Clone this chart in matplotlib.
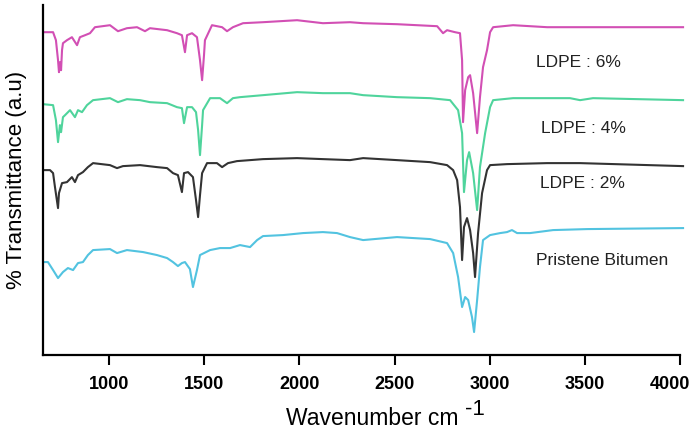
import matplotlib.pyplot as plt
from matplotlib import font_manager
from matplotlib.transforms import ScaledTranslation

# FTIR spectra, wavenumber (cm-1) vs. transmittance (arbitrary units, offset per sample)
wn_ldpe6 = [653, 706, 721, 732, 737, 742, 748, 753, 758, 779, 805, 832, 847, 874, 900, 926,
            1005, 1047, 1094, 1147, 1189, 1215, 1305, 1357, 1383, 1399, 1410, 1436, 1462, 1478,
            1489, 1499, 1504, 1541, 1594, 1620, 1651, 1704, 1809, 1988, 2124, 2266, 2335, 2513,
            2724, 2755, 2776, 2818, 2844, 2855, 2860, 2871, 2887, 2897, 2913, 2934, 2949, 2965,
            2986, 3002, 3018, 3123, 3302, 3475, 4016]
tr_ldpe6 = [323, 323, 315, 295, 283, 293, 285, 305, 312, 315, 318, 310, 318, 320, 322, 328,
            330, 324, 327, 328, 324, 327, 325, 322, 320, 303, 320, 322, 318, 295,
            275, 300, 315, 330, 328, 324, 328, 332, 333, 335, 332, 333, 332, 331,
            329, 322, 325, 323, 322, 295, 233, 265, 278, 280, 262, 222, 258, 288,
            305, 323, 328, 330, 328, 328, 328]

wn_ldpe4 = [653, 706, 721, 732, 742, 748, 758, 769, 795, 821, 837, 858, 884, 916, 1005, 1047,
            1094, 1163, 1215, 1305, 1357, 1383, 1394, 1410, 1436, 1457, 1468, 1478, 1489, 1494,
            1531, 1583, 1620, 1651, 1688, 1809, 1988, 2124, 2266, 2335, 2513, 2687, 2792, 2834,
            2855, 2865, 2881, 2892, 2913, 2934, 2949, 2976, 3002, 3018, 3123, 3302, 3422, 3475,
            3543, 4016]
tr_ldpe4 = [251, 250, 235, 213, 230, 223, 238, 240, 245, 238, 245, 243, 250, 255, 257, 253,
            256, 255, 253, 252, 248, 247, 232, 248, 248, 243, 225, 200, 230, 245,
            257, 257, 252, 257, 258, 260, 263, 262, 262, 260, 258, 257, 255, 245,
            222, 163, 195, 203, 182, 145, 188, 222, 248, 255, 257, 257, 257, 255,
            257, 255]

wn_ldpe2 = [653, 690, 706, 716, 732, 737, 753, 779, 805, 821, 837, 863, 889, 916, 1005, 1042,
            1073, 1163, 1252, 1305, 1336, 1362, 1383, 1394, 1415, 1441, 1457, 1468, 1478, 1489,
            1515, 1567, 1594, 1625, 1672, 1809, 1988, 2124, 2266, 2335, 2513, 2687, 2776, 2808,
            2829, 2844, 2855, 2865, 2881, 2897, 2913, 2923, 2939, 2960, 2986, 3002, 3091, 3302,
            3475, 4016]
tr_ldpe2 = [185, 185, 182, 168, 147, 162, 172, 173, 178, 173, 180, 183, 188, 192, 190, 187,
            189, 190, 188, 187, 182, 180, 163, 182, 183, 178, 155, 138, 160, 182,
            192, 192, 188, 192, 194, 196, 197, 196, 195, 197, 195, 193, 190, 185,
            175, 148, 95, 128, 137, 125, 102, 78, 122, 162, 185, 190, 191, 192,
            192, 189]

wn_bitumen = [653, 679, 706, 732, 758, 784, 811, 837, 863, 889, 916, 1005, 1042, 1094, 1179,
              1252, 1305, 1336, 1362, 1383, 1399, 1425, 1441, 1462, 1478, 1531, 1583, 1636,
              1688, 1741, 1778, 1809, 1914, 2019, 2124, 2198, 2266, 2335, 2513, 2687, 2776,
              2808, 2834, 2855, 2871, 2887, 2907, 2918, 2934, 2949, 2965, 3002, 3055, 3091,
              3117, 3144, 3212, 3333, 3512, 4016]
tr_bitumen = [93, 93, 85, 77, 83, 87, 85, 92, 93, 100, 105, 106, 102, 105, 103,
              100, 97, 93, 89, 92, 93, 86, 68, 85, 100, 105, 107, 107,
              110, 108, 115, 119, 120, 122, 123, 122, 118, 115, 118, 116, 112,
              102, 78, 48, 58, 55, 38, 23, 55, 88, 115, 120, 122, 123,
              125, 122, 122, 125, 126, 127]

labels = ["LDPE : 6%", "LDPE : 4%", "LDPE : 2%", "Pristene Bitumen"]
colors = ["#d24fb4", "#4fd49c", "#333333", "#52c3e0"]
xticks = [1000, 1500, 2000, 2500, 3000, 3500, 4000]

installed = {f.name for f in font_manager.fontManager.ttflist}
narrow = "Liberation Sans Narrow" if "Liberation Sans Narrow" in installed else "Liberation Sans"
plt.rcParams["font.family"] = ["Liberation Sans", "DejaVu Sans"]

fig = plt.figure(figsize=(6.9, 4.34), dpi=100)
ax = fig.add_axes([0.0623, 0.182, 0.9315, 0.806])

spectra = [(wn_ldpe6, tr_ldpe6), (wn_ldpe4, tr_ldpe4), (wn_ldpe2, tr_ldpe2), (wn_bitumen, tr_bitumen)]
for (wn, tr), color in zip(spectra, colors):
    ax.plot(wn, tr, color=color, lw=1.5, solid_joinstyle="round")

# sample names to the right of the C-H stretching bands
label_pos = [(3244, 293), (3270, 227), (3265, 172), (3244, 95)]
for text, (x, y) in zip(labels, label_pos):
    ax.text(x, y, text, fontsize=12.5, va="center", ha="left", color="#222222")

ax.set_xlim(653, 4030)
ax.set_ylim(0, 350)
ax.spines["top"].set_visible(False)
ax.spines["right"].set_visible(False)
ax.spines["left"].set_linewidth(1.6)
ax.spines["bottom"].set_linewidth(1.6)
ax.spines["bottom"].set_bounds(653, 4000)

ax.set_yticks([])
ax.set_xticks(xticks)
ax.tick_params(axis="x", direction="out", length=7, width=1.5, pad=8)
for lbl in ax.get_xticklabels():
    lbl.set_fontfamily(narrow)
    lbl.set_fontweight("bold")
    lbl.set_fontsize(13)
# keep the last tick label inside the figure
last = ax.get_xticklabels()[-1]
last.set_transform(last.get_transform() + ScaledTranslation(-0.1, 0, fig.dpi_scale_trans))

ax.set_xlabel("Wavenumber cm", fontsize=16.5)
ax.xaxis.set_label_coords(0.513, -0.148)
ax.text(0.657, -0.171, "-1", transform=ax.transAxes, fontsize=16, ha="left", va="baseline")
ax.set_ylabel("% Transmittance (a.u)", fontsize=16)
ax.yaxis.set_label_coords(-0.025, 0.5)

fig.savefig("out.png", dpi=100)
